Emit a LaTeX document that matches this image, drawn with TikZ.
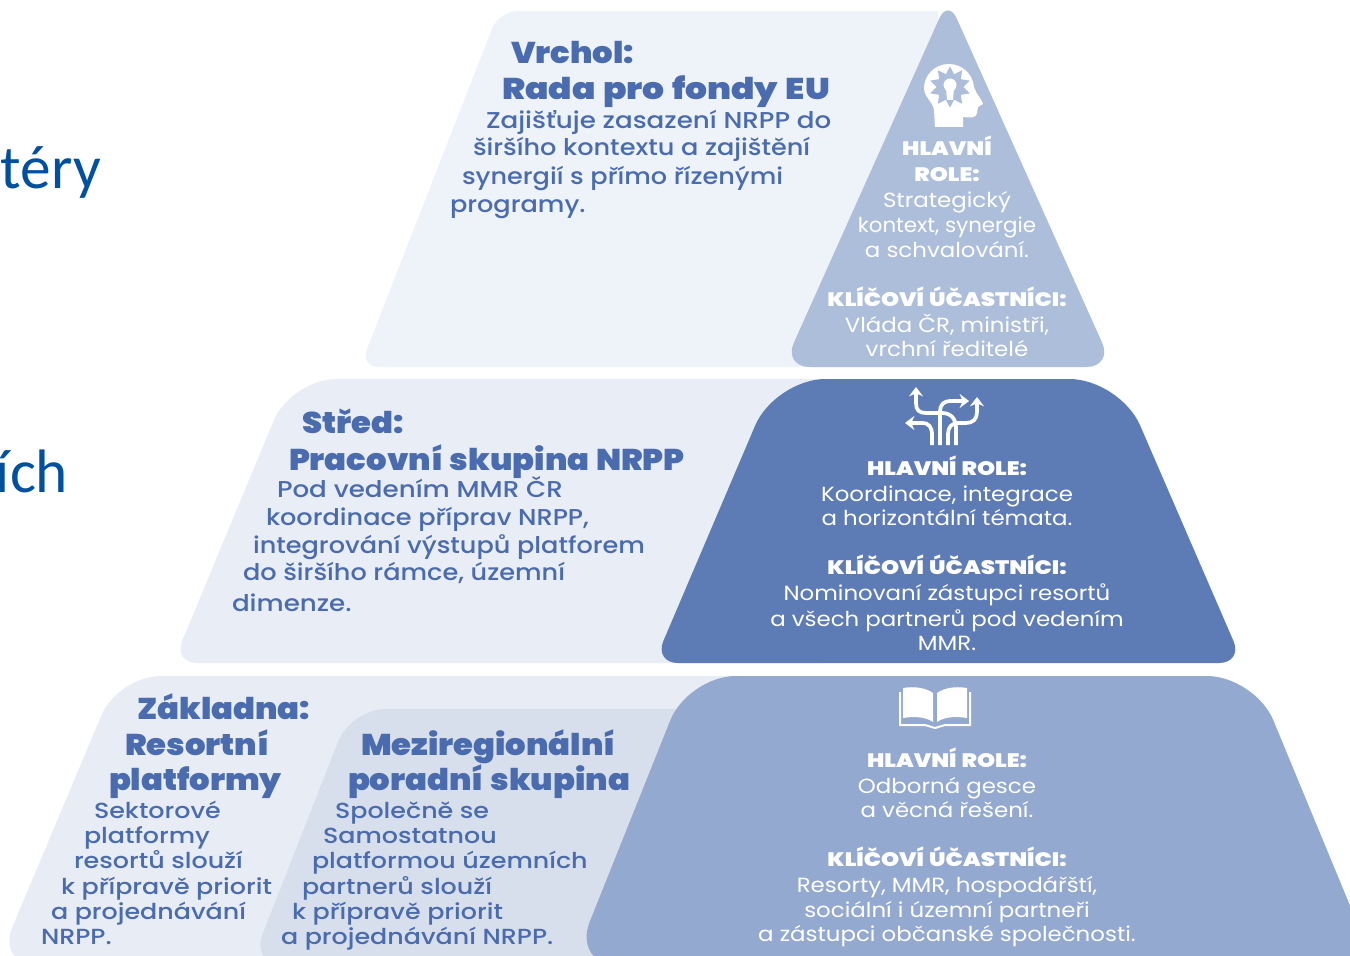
\documentclass[tikz,border=0pt]{standalone}
\usepackage{fontspec}
\setmainfont{Poppins}
\newfontfamily\ttlf[FakeStretch=1.075,WordSpace=1.2]{Poppins Black}
\newfontfamily\ttlwf[FakeStretch=1.15,WordSpace=1.3]{Poppins Black}
\newfontfamily\whbf[FakeStretch=1.18,WordSpace=1.3]{Poppins Black}
\newfontfamily\bodf[FakeStretch=1.115]{Poppins Medium}
\newfontfamily\bodwf[FakeStretch=1.14]{Poppins Medium}
\newfontfamily\bodsf[FakeStretch=1.16]{Poppins Medium}
\newfontfamily\whf[FakeStretch=1.115]{Poppins}
\newfontfamily\whnf[FakeStretch=1.04]{Poppins}
\newfontfamily\callig{Carlito}
\usetikzlibrary{arrows.meta,shapes.geometric}
\definecolor{inkblue}{HTML}{4A6CAE}
\definecolor{sideblue}{HTML}{0050A0}
\definecolor{topl}{HTML}{EEF2F9}
\definecolor{topd}{HTML}{ADBEDB}
\definecolor{midl}{HTML}{E8EDF6}
\definecolor{midd}{HTML}{5D7BB5}
\definecolor{botl}{HTML}{E7ECF5}
\definecolor{botm}{HTML}{D8DFEC}
\definecolor{botd}{HTML}{94A9D0}
\tikzset{
  x=0.75pt,y=-0.75pt,
  txt/.style={inner sep=0pt,outer sep=0pt,anchor=base west,text=inkblue},
  ttl/.style={txt,font=\ttlf\fontsize{22.5pt}{27pt}\selectfont},
  ttlw/.style={txt,font=\ttlwf\fontsize{22.5pt}{27pt}\selectfont},
  bod/.style={txt,font=\bodf\fontsize{17.2pt}{21pt}\selectfont},
  bodw/.style={txt,font=\bodwf\fontsize{17.2pt}{21pt}\selectfont},
  bods/.style={txt,font=\bodsf\fontsize{16.4pt}{21pt}\selectfont},
  wh/.style={inner sep=0pt,outer sep=0pt,anchor=base,text=white,font=\whf\fontsize{15.4pt}{20pt}\selectfont},
  whn/.style={inner sep=0pt,outer sep=0pt,anchor=base,text=white,font=\whnf\fontsize{15.4pt}{20pt}\selectfont},
  whb/.style={inner sep=0pt,outer sep=0pt,anchor=base,text=white,font=\whbf\fontsize{14.6pt}{20pt}\selectfont},
  side/.style={inner sep=0pt,outer sep=0pt,anchor=base west,text=sideblue,font=\callig\fontsize{46pt}{50pt}\selectfont},
  icon/.style={draw=white,line width=2.8pt,line cap=butt},
  tip/.style={-{Stealth[length=7pt,width=10.5pt]}},
}
\begin{document}
\begin{tikzpicture}
\useasboundingbox (0,0) rectangle (1350,956);
\clip (0,0) rectangle (1350,956);
\fill[white] (0,0) rectangle (1350,956);
% top tier
\fill[topl] [rounded corners=14] (360,367) -- (499,11) [sharp corners] -- (938,11) -- (938,367) [rounded corners=14] -- cycle;
\fill[topd] [rounded corners=20] (783,367) [rounded corners=16] -- (948,-1) [rounded corners=20] -- (1113,367) -- cycle;
% middle tier
\fill[midl] [rounded corners=18] (173,663) [rounded corners=34] -- (291,379) [sharp corners] -- (820,379) -- (820,663) [rounded corners=18] -- cycle;
\fill[midd] [rounded corners=38] (775,379) -- (1120,379) [rounded corners=18] -- (1243,663) -- (654,663) [rounded corners=38] -- cycle;
% bottom tier
\fill[botl,rounded corners=32] (-4,966) -- (118,676) -- (800,676) -- (800,966) -- cycle;
\fill[botm,rounded corners=26] (250,966) -- (351,709) -- (800,709) -- (800,966) -- cycle;
\fill[botd,rounded corners=36] (572,966) -- (688,676) -- (1255,676) -- (1375,966) -- cycle;
% side text
\node[side] (s1) at (1,188) {téry};
\node[side] (s2) at (-4,492) {ích};
% top text
\node[ttl] (t1) at (511,64) {Vrchol:};
\node[ttlw] (t2) at (502,100) {Rada pro fondy EU};
\node[bodw] (t3) at (486,128) {Zajišťuje zasazení NRPP do};
\node[bod] (t4) at (473,156) {širšího kontextu a zajištění};
\node[bod] (t5) at (462,184) {synergií s přímo řízenými};
\node[bod] (t6) at (450,212) {programy.};
% middle text
\node[ttl] (m1) at (302,433) {Střed:};
\node[ttl] (m2) at (289,470) {Pracovní skupina NRPP};
\node[bodw] (m3) at (277,497) {Pod vedením MMR ČR};
\node[bod] (m4) at (266,525) {koordinace příprav NRPP,};
\node[bod] (m5) at (253,553) {integrování výstupů platforem};
\node[bod] (m6) at (243,580) {do širšího rámce, územní};
\node[bodw] (m7) at (232,611) {dimenze.};
% bottom left
\node[ttl] (b1) at (137,719) {Základna:};
\node[ttl] (b2) at (125,755) {Resortní};
\node[ttl] (b3) at (109,790) {platformy};
\node[bods] (b4) at (94,818) {Sektorové};
\node[bods] (b5) at (84,843) {platformy};
\node[bods] (b6) at (74,868) {resortů slouží};
\node[bods] (b7) at (61,894) {k přípravě priorit};
\node[bods] (b8) at (51,919) {a projednávání};
\node[bods] (b9) at (41,944) {NRPP.};
% bottom middle
\node[ttl] (c1) at (361,755) {Meziregionální};
\node[ttl] (c2) at (348,790) {poradní skupina};
\node[bods] (c3) at (335,818) {Společně se};
\node[bods] (c4) at (323,843) {Samostatnou};
\node[bods] (c5) at (312,868) {platformou územních};
\node[bods] (c6) at (302,894) {partnerů slouží};
\node[bods] (c7) at (292,919) {k přípravě priorit};
\node[bods] (c8) at (281,944) {a projednávání NRPP.};
% right top
\node[whb] (r1) at (947,156) {HLAVNÍ};
\node[whb] (r2) at (947,181) {ROLE:};
\node[wh] (r3) at (947,207) {Strategický};
\node[whn] (r4) at (947,232) {kontext, synergie};
\node[wh] (r5) at (947,257) {a schvalování.};
\node[whb] (r6) at (947,306) {KLÍČOVÍ ÚČASTNÍCI:};
\node[wh] (r7) at (947,332) {Vláda ČR, ministři,};
\node[wh] (r8) at (947,356) {vrchní ředitelé};
% right middle
\node[whb] (q1) at (947,475) {HLAVNÍ ROLE:};
\node[wh] (q2) at (947,501) {Koordinace, integrace};
\node[wh] (q3) at (947,525) {a horizontální témata.};
\node[whb] (q4) at (947,574) {KLÍČOVÍ ÚČASTNÍCI:};
\node[wh] (q5) at (947,600) {Nominovaní zástupci resortů};
\node[wh] (q6) at (947,626) {a všech partnerů pod vedením};
\node[wh] (q7) at (947,650) {MMR.};
% right bottom
\node[whb] (p1) at (947,767) {HLAVNÍ ROLE:};
\node[wh] (p2) at (947,793) {Odborná gesce};
\node[wh] (p3) at (947,817) {a věcná řešení.};
\node[whb] (p4) at (947,866) {KLÍČOVÍ ÚČASTNÍCI:};
\node[wh] (p5) at (947,892) {Resorty, MMR, hospodářští,};
\node[wh] (p6) at (947,917) {sociální i územní partneři};
\node[wh] (p7) at (947,941) {a zástupci občanské společnosti.};
% head icon
\fill[white] (935,127) -- (963,127) -- (963,117) .. controls (970,118) and (977,118) .. (977,113)
  -- (978,107) -- (983,104) .. controls (983,101) and (976,94) .. (974,87)
  .. controls (973,74) and (962,64) .. (949,64) .. controls (934,64) and (924,76) .. (924,88)
  .. controls (924,97) and (933,102) .. (934,110) -- cycle;
\node[star,star points=10,star point ratio=1.55,minimum size=31pt,inner sep=0pt,fill=topd] (gear) at (950,87) {};
\fill[white] (950,85) circle[radius=6.5];
\fill[white] (946,88) -- (954,88) -- (953,100) -- (947,100) -- cycle;
% arrows icon
\draw[icon,tip] (932,445) -- (932,435) .. controls (932,427) and (929,423) .. (922,423) -- (905,423);
\draw[icon,tip] (956,445) -- (956,428) .. controls (956,419) and (951,413) .. (942,413) -- (926,413) .. controls (919,413) and (916,410) .. (916,403) -- (916,387);
\draw[icon,tip] (940,445) -- (940,411) .. controls (940,405) and (944,401) .. (950,401) -- (969,401);
\draw[icon,tip] (948,445) -- (948,434) .. controls (948,427) and (952,423) .. (958,423) -- (966,423) .. controls (973,423) and (977,419) .. (977,412) -- (977,397);
% book icon
\fill[white] (903,688) .. controls (915,686) and (926,688) .. (933,693) -- (933,722) .. controls (926,717) and (915,716) .. (903,718) -- cycle;
\fill[white] (967,688) .. controls (955,686) and (944,688) .. (937,693) -- (937,722) .. controls (944,717) and (955,716) .. (967,718) -- cycle;
\draw[white,line width=1.5pt] (900,692) -- (900,725) -- (925,725) -- (935,728) -- (945,725) -- (970,725) -- (970,692);
\end{tikzpicture}
\end{document}
